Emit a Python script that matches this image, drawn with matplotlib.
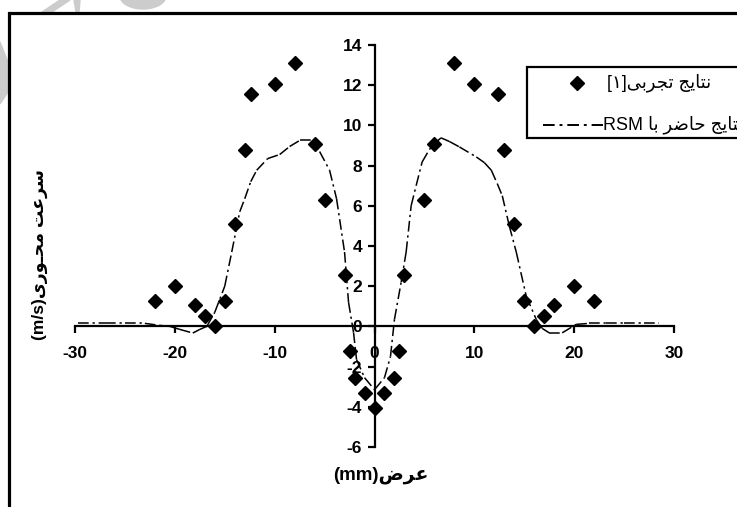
import matplotlib
matplotlib.use("Agg")
import matplotlib.pyplot as plt
from matplotlib.lines import Line2D
from matplotlib.collections import LineCollection
from matplotlib.patches import Rectangle, Polygon, Ellipse
import numpy as np

plt.rcParams['font.family'] = ['Liberation Sans', 'DejaVu Sans']

# ---------------- data ----------------
exp_x = [-22, -20, -18, -17, -16, -15, -14, -13, -12.4, -10, -8, -6, -5, -3,
         -2.5, -2, -1, 0, 1, 2, 2.5,
         3, 5, 6, 8, 10, 12.4, 13, 14, 15, 16, 17, 18, 20, 22]
exp_y = [1.27, 2.0, 1.05, 0.52, 0.0, 1.27, 5.07, 8.77, 11.57, 12.05, 13.1, 9.07, 6.27, 2.55,
         -1.23, -2.57, -3.3, -4.07, -3.3, -2.57, -1.23,
         2.55, 6.27, 9.07, 13.1, 12.05, 11.57, 8.77, 5.07, 1.27, 0.0, 0.52, 1.05, 2.0, 1.27]

rsm_x = [-29.7, -27, -25, -23, -21.5, -20.5, -19.5, -18.2, -17.5, -16.8, -16.0, -15.0, -14.3,
         -13.5, -13.0, -12.4, -11.8, -10.7, -9.5, -8.5, -7.5, -6.2, -5.5, -4.5, -3.8,
         -3.0, -2.6, -2.1, -1.8, -1.0, 0.0, 1.0, 1.6, 2.0, 2.67, 3.17, 3.67, 4.17,
         4.77, 5.5, 6.0, 6.67, 7.5, 8.5, 10.2, 11.0, 11.7, 12.3, 12.8, 13.5, 14.2,
         15.2, 16.2, 16.8, 17.5, 18.8, 20.2, 21.5, 23.2, 25, 27, 28.5]
rsm_y = [0.15, 0.15, 0.15, 0.15, 0.05, 0.0, -0.15, -0.33, -0.15, 0.0, 0.7, 2.0, 3.7,
         5.7, 6.35, 7.2, 7.77, 8.35, 8.55, 8.95, 9.25, 9.25, 8.7, 7.77, 6.35,
         3.7, 1.2, -0.3, -1.65, -2.55, -3.15, -2.55, -1.5, 0.35, 2.2, 3.7, 6.0, 7.0,
         8.18, 8.8, 9.1, 9.38, 9.2, 8.93, 8.43, 8.15, 7.77, 7.1, 6.5, 5.0, 3.7,
         1.5, 0.35, -0.1, -0.32, -0.32, 0.1, 0.15, 0.15, 0.15, 0.15, 0.15]

x_ticks = [-30, -20, -10, 0, 10, 20, 30]
y_ticks = [-6, -4, -2, 0, 2, 4, 6, 8, 10, 12, 14]

# ---------------- simple Arabic/Persian shaping ----------------
FORMS = {
    '\u0627': ('\uFE8D', '\uFE8E', None, None),
    '\u0628': ('\uFE8F', '\uFE90', '\uFE91', '\uFE92'),
    '\u062A': ('\uFE95', '\uFE96', '\uFE97', '\uFE98'),
    '\u062C': ('\uFE9D', '\uFE9E', '\uFE9F', '\uFEA0'),
    '\u062D': ('\uFEA1', '\uFEA2', '\uFEA3', '\uFEA4'),
    '\u0631': ('\uFEAD', '\uFEAE', None, None),
    '\u0633': ('\uFEB1', '\uFEB2', '\uFEB3', '\uFEB4'),
    '\u0636': ('\uFEBD', '\uFEBE', '\uFEBF', '\uFEC0'),
    '\u0639': ('\uFEC9', '\uFECA', '\uFECB', '\uFECC'),
    '\u0645': ('\uFEE1', '\uFEE2', '\uFEE3', '\uFEE4'),
    '\u0646': ('\uFEE5', '\uFEE6', '\uFEE7', '\uFEE8'),
    '\u0648': ('\uFEED', '\uFEEE', None, None),
    '\u06CC': ('\uFEEF', '\uFEF0', '\uFEF3', '\uFEF4'),
    '\u0640': ('\u0640', '\u0640', '\u0640', '\u0640'),
}


def shape(s):
    out = []
    for i, c in enumerate(s):
        if c not in FORMS:
            out.append(c)
            continue
        prev = s[i - 1] if i > 0 else None
        nxt = s[i + 1] if i + 1 < len(s) else None
        jp = prev in FORMS and FORMS[prev][2] is not None
        jn = FORMS[c][2] is not None and nxt in FORMS
        f = FORMS[c]
        if jp and jn:
            g = f[3]
        elif jp:
            g = f[1]
        elif jn:
            g = f[2]
        else:
            g = f[0]
        out.append(g)
    return ''.join(out)[::-1]


ylabel_txt = "(m/s)" + shape("سرعت محـوری")
xlabel_txt = "(mm)" + shape("عرض")
leg1_txt = "[۱]" + shape("نتایج تجربی")
leg2_txt = "RSM " + shape("نتایج حاضر با")

# ---------------- figure ----------------
W, H = 737, 507
fig = plt.figure(figsize=(W / 100, H / 100), dpi=100)
fig.patch.set_facecolor('white')

# faint watermark-like grey shapes in the top-left corner
gray = '#cccccc'
fig.patches.append(Ellipse((143 / W, 1 + 4 / H), 46 / W, 26 / H, transform=fig.transFigure,
                           color=gray, zorder=0))
fig.patches.append(Polygon([(42 / W, 1 - 12 / H), (60 / W, 1.0), (70 / W, 1.0), (52 / W, 1 - 12 / H)],
                           closed=True, transform=fig.transFigure, color=gray, zorder=0))
fig.patches.append(Polygon([(74 / W, 1.0), (80 / W, 1.0), (79 / W, 1 - 12 / H), (76 / W, 1 - 12 / H)],
                           closed=True, transform=fig.transFigure, color=gray, zorder=0))
fig.patches.append(Polygon([(0, 1 - 42 / H), (8 / W, 1 - 62 / H), (8 / W, 1 - 92 / H), (0, 1 - 104 / H)],
                           closed=True, transform=fig.transFigure, color=gray, zorder=0))

# outer frame
fig.patches.append(Rectangle((9 / W, -0.1), 1.2, 1 - 13 / H + 0.1, transform=fig.transFigure,
                             fill=False, edgecolor='black', lw=2.3, zorder=1))

ax = fig.add_axes([75 / W, 1 - 447 / H, 599 / W, 402 / H])
ax.set_facecolor('none')
ax.set_xlim(-30, 30)
ax.set_ylim(-6, 14)

for s in ['top', 'right']:
    ax.spines[s].set_visible(False)
ax.spines['left'].set_position(('data', 0))
ax.spines['bottom'].set_position(('data', 0))
ax.spines['left'].set_linewidth(1.6)
ax.spines['bottom'].set_linewidth(1.6)

ax.set_xticks(x_ticks)
ax.set_yticks(y_ticks)
ax.set_xticklabels([str(t) for t in x_ticks])
ax.set_yticklabels([str(t) for t in y_ticks])
ax.tick_params(axis='x', direction='out', length=5, width=1.6, pad=9, labelsize=12.5)
ax.tick_params(axis='y', direction='out', length=5, width=1.6, pad=4, labelsize=12.5)
for lab in ax.get_xticklabels() + ax.get_yticklabels():
    lab.set_fontweight('bold')

# RSM curve: drawn segment by segment (dash pattern restarts per segment)
pts = np.column_stack([rsm_x, rsm_y])
segs = [pts[i:i + 2] for i in range(len(pts) - 1)]
lc = LineCollection(segs, colors='black', linewidths=1.1,
                    linestyles=[(0, (7, 2.5, 1.5, 2.5))], zorder=2)
ax.add_collection(lc)

ax.plot(exp_x, exp_y, ls='none', marker='D', ms=6.8, color='black', zorder=3, clip_on=False)

# axis labels
fig.text(381 / W, 1 - 475 / H, xlabel_txt, ha='center', va='center', fontsize=13.5,
         fontweight='bold', family=['Liberation Sans', 'DejaVu Sans'])
fig.text(40 / W, 1 - 255 / H, ylabel_txt, ha='center', va='center', rotation=90, fontsize=12.5,
         fontweight='bold', family=['Liberation Sans', 'DejaVu Sans'])

# legend box (drawn manually, extends past the right edge like the reference)
fig.patches.append(Rectangle((527 / W, 1 - 138 / H), 0.5, 71 / H, transform=fig.transFigure,
                             facecolor='white', edgecolor='black', lw=1.6, zorder=4))
fig.lines.append(Line2D([577 / W], [1 - 83 / H], transform=fig.transFigure, ls='none',
                        marker='D', ms=6.8, color='black', zorder=5))
fig.lines.append(Line2D([543 / W, 603 / W], [1 - 125 / H, 1 - 125 / H], transform=fig.transFigure,
                        color='black', lw=1.4, ls=(0, (6, 2.5, 1.5, 2.5)), zorder=5))
fig.text(607 / W, 1 - 83 / H, leg1_txt, ha='left', va='center', fontsize=13,
         family=['Liberation Sans', 'DejaVu Sans'], zorder=6)
fig.text(603 / W, 1 - 125 / H, leg2_txt, ha='left', va='center', fontsize=13,
         family=['Liberation Sans', 'DejaVu Sans'], zorder=6)

fig.savefig('out.png', dpi=100)
